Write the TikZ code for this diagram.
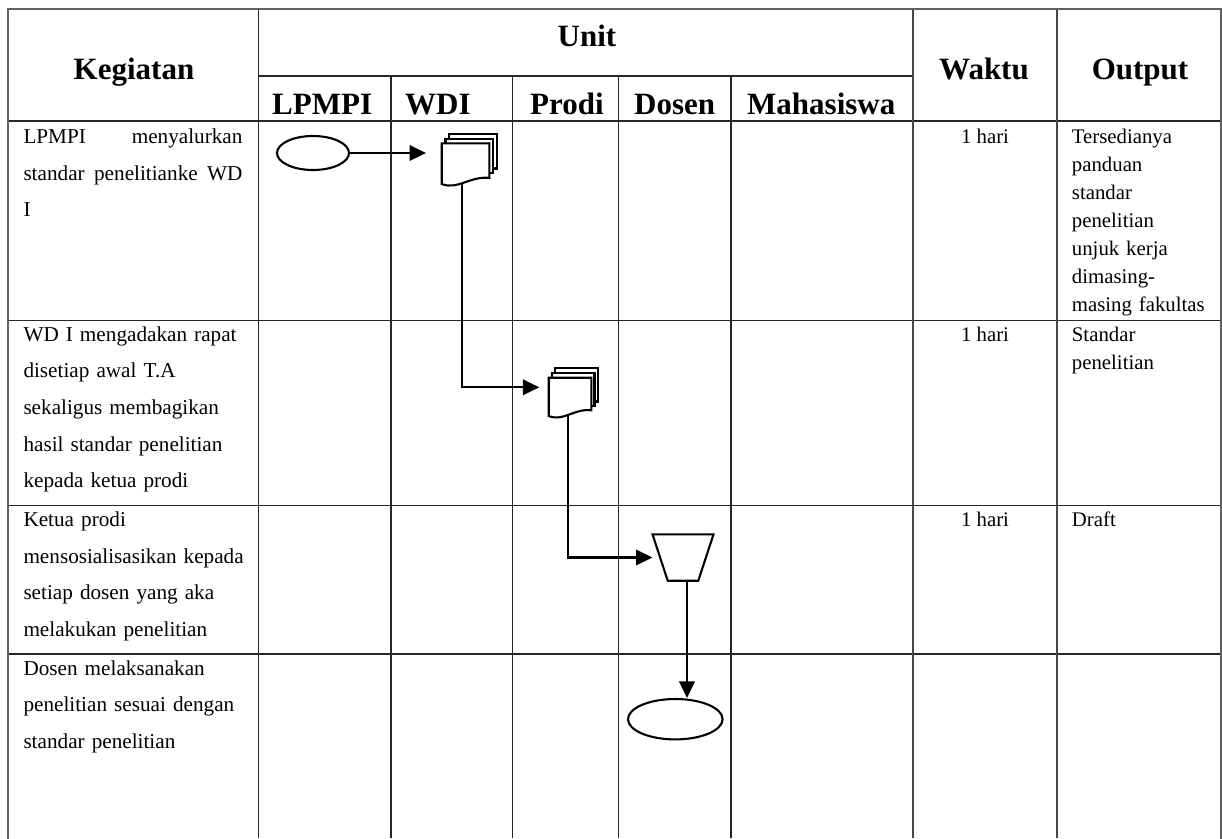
\documentclass[tikz,border=0pt]{standalone}
\usepackage{fontspec}
\setmainfont{Liberation Serif}
\usetikzlibrary{arrows.meta,shapes.geometric,calc}
% name, left x, top y, width, height, layer shift
\newcommand\multidoc[6]{%
  \node[inner sep=0pt,outer sep=0pt,minimum width=#4pt,minimum height=#5pt,anchor=north west] (#1) at (#2,#3) {};
  \begin{scope}[shift={(#2,#3)}]
    \draw[shp] (2*#6,-4.6) -- (2*#6,-9.3) -- (#4+2*#6,-9.3) -- (#4+2*#6,0.62*#5) -- (#4+#6,0.62*#5);
    \draw[shp] (#6,0) -- (#6,-4.6) -- (#4+#6,-4.6) -- (#4+#6,0.73*#5) -- (#4,0.73*#5);
    \draw[shp] (0,0) -- (#4,0) -- (#4,0.85*#5) .. controls (0.59*#4,0.80*#5) and (0.34*#4,1.155*#5) .. (0,#5) -- cycle;
  \end{scope}}
\newcommand\jline[1]{\leavevmode\hbox to 219pt{#1}}
\tikzset{
  gridl/.style={draw=black!85,line width=1.3pt},
  gridt/.style={draw=black!72,line width=2pt},
  outer/.style={draw=black!62,line width=2.2pt,line cap=rect},
  shp/.style={draw=black,line width=2.1pt,line join=miter},
  conn/.style={draw=black,line width=2.1pt,-{Triangle[length=16.5pt,width=15.5pt]}},
  hdr/.style={font=\fontsize{31}{36}\selectfont\bfseries,inner sep=0pt},
  body/.style={font=\fontsize{21.2}{36.7}\selectfont,inner sep=0pt,text width=225pt,align=left,anchor=base west},
  outp/.style={font=\fontsize{20.8}{28}\selectfont,inner sep=0pt,text width=148pt,align=left,anchor=base west},
  wkt/.style={font=\fontsize{20.8}{28}\selectfont,inner sep=0pt,anchor=base},
}
\begin{document}
\begin{tikzpicture}[x=1pt,y=-1pt]
\useasboundingbox (0,0) rectangle (1222,838);
% ---- table grid ----
\draw[gridl] (258.7,76) -- (912.7,76);
\draw[gridl] (8.3,121) -- (1220.7,121);
\draw[gridl] (8.3,320.7) -- (1220.7,320.7);
\draw[gridl] (8.3,505.7) -- (1220.7,505.7);
\draw[gridl] (8.3,654) -- (1220.7,654);
\draw[gridl] (258.7,8.7) -- (258.7,838);
\foreach \xx in {391,512.7,618.7,731} \draw[gridl] (\xx,76) -- (\xx,838);
\draw[gridt] (912.7,8.7) -- (912.7,838);
\draw[gridt] (1056.7,8.7) -- (1056.7,838);
\draw[outer] (8.3,838) -- (8.3,8.7) -- (1220.7,8.7) -- (1220.7,838);
% ---- header ----
\node[hdr,anchor=base] (hKeg) at (134,79) {Kegiatan};
\node[hdr,anchor=base] (hUnit) at (587,46.5) {Unit};
\node[hdr,anchor=base west] (hLP) at (272,114) {LPMPI};
\node[hdr,anchor=base west] (hWD) at (405,114) {WDI};
\node[hdr,anchor=base west] (hPr) at (530,114) {Prodi};
\node[hdr,anchor=base west] (hDo) at (634,114) {Dosen};
\node[hdr,anchor=base west] (hMa) at (747,114) {Mahasiswa};
\node[hdr,anchor=base] (hWa) at (984,79) {Waktu};
\node[hdr,anchor=base] (hOu) at (1140,79) {Output};
% ---- Kegiatan texts ----
\node[body] (k1) at (23.3,143.3) {\jline{LPMPI\hfill menyalurkan}\\\jline{standar\hfill penelitianke\hfill WD}\\I};
\node[body] (k2) at (23.3,341) {WD I mengadakan rapat\\disetiap awal T.A\\sekaligus membagikan\\hasil standar penelitian\\kepada ketua prodi};
\node[body] (k3) at (23.3,526.3) {Ketua prodi\\mensosialisasikan kepada\\setiap dosen yang aka\\melakukan penelitian};
\node[body] (k4) at (23.3,675) {Dosen melaksanakan\\penelitian sesuai dengan\\standar penelitian};
% ---- Waktu ----
\node[wkt] (w1) at (985,143) {1 hari};
\node[wkt] (w2) at (985,341) {1 hari};
\node[wkt] (w3) at (985,526.3) {1 hari};
% ---- Output ----
\node[outp] (o1) at (1071.7,143) {Tersedianya\\panduan\\standar\\penelitian\\unjuk kerja\\dimasing-\\masing fakultas};
\node[outp] (o2) at (1071.7,341) {Standar\\penelitian};
\node[outp] (o3) at (1071.7,526.3) {Draft};
% ---- flow shapes ----
\node[shp,ellipse,minimum width=72pt,minimum height=34pt,inner sep=0pt] (e1) at (313,153) {};
\multidoc{d1}{441.7}{143.3}{47.6}{40.7}{3.8}
\multidoc{d2}{548.7}{377.7}{42.6}{38.3}{3.2}
\node[inner sep=0pt,outer sep=0pt,minimum width=61pt,minimum height=46.4pt] (t1) at (683,557.5) {};
\draw[shp] (t1.north west) -- (t1.north east) -- ($(t1.south east)+(-15.2,0)$) -- ($(t1.south west)+(15.2,0)$) -- cycle;
\node[shp,ellipse,minimum width=94.6pt,minimum height=40.4pt,inner sep=0pt] (e2) at (675.3,719.2) {};
% ---- connector end points ----
\coordinate (d1in) at (426,153);
\coordinate (d1b) at ($(d1.north west)+(20.3,40.6)$);
\coordinate (d2in) at (539.3,387.3);
\coordinate (d2b) at ($(d2.north west)+(19.6,38.2)$);
\coordinate (t1b) at ($(t1.south)+(4,0)$);
% ---- connectors ----
\draw[conn] (e1.east) -- (d1in);
\draw[conn] (d1b) |- (d2in);
\draw[conn] (d2b) |- (t1.west);
\draw[conn] (t1b) -- (t1b |- e2.north);
\end{tikzpicture}
\end{document}
